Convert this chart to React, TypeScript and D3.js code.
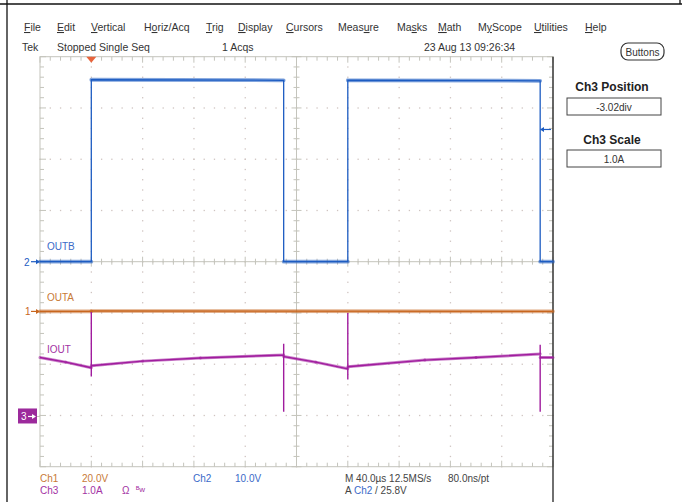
import React from 'react';
import * as d3 from 'd3';

// screen capture of a scope: 10 x 8 divisions, 40us/div
const menuItems = ['File', 'Edit', 'Vertical', 'Horiz/Acq', 'Trig', 'Display', 'Cursors', 'Measure', 'Masks', 'Math', 'MyScope', 'Utilities', 'Help'];
const menuX = [24, 57, 91, 144, 206, 238, 286, 338, 397, 438, 478, 534, 585];
const menuKey = [0, 0, 0, 1, 0, 0, 0, 4, 2, 0, 1, 0, 0];

// OUTB, Ch2, 10 V/div
const ch2Times = [-40, 0, 0, 150, 150, 200, 200, 350, 350, 360];
const ch2Volts = [0, 0, 35.5, 35.4, 0, 0, 35.4, 35.3, 0, 0];
// OUTA, Ch1, 20 V/div
const ch1Times = [-40, 0, 0, 360];
const ch1Volts = [0, 0, 0.15, 0];
// IOUT, Ch3, 1 A/div
const ch3Times = [-40, -20, 0, 0, 0, 0, 40, 85, 150, 150, 150, 150, 175, 200, 200, 200, 200, 260, 300, 350, 350, 350, 350, 360];
const ch3Amps = [1.15, 1.06, 0.95, 2.04, 0.78, 0.99, 1.08, 1.14, 1.2, 1.42, 0.09, 1.17, 1.06, 0.93, 2.02, 0.72, 0.97, 1.1, 1.15, 1.22, 1.4, 0.09, 1.15, 1.15];

const ch1Pos = -0.97, ch2Pos = 0, ch3Pos = -3.02;
const ch1Scale = 20, ch2Scale = 10, ch3Scale = 1;
const trigLevel = 25.8;

const blue = '#1d5cc2', orange = '#c8661e', purple = '#a01c9e';
const gridC = '#c4c4bc';
const font = '"Liberation Sans Narrow", "Liberation Sans", Arial, sans-serif';

const x0 = 40, x1 = 553, y0 = 56.7, y1 = 466.7;

export default function App() {
  const xT = d3.scaleLinear().domain([-40, 360]).range([x0, x1]);
  const xDiv = d3.scaleLinear().domain([0, 10]).range([x0, x1]);
  const yDiv = d3.scaleLinear().domain([4, -4]).range([y0, y1]);

  const trace = (ts: number[], vs: number[], sc: number, pos: number) =>
    d3.line<number>().x((_, i) => xT(ts[i])).y((v) => yDiv(v / sc + pos))(vs) || '';

  // noisy band only on the flat/sloped runs, not on the edges
  const band = (ts: number[], vs: number[], sc: number, pos: number, color: string, w: number, key: string) =>
    ts.slice(0, -1).map((t, i) =>
      t === ts[i + 1] ? null : (
        <line key={key + i} x1={xT(t)} x2={xT(ts[i + 1])} y1={yDiv(vs[i] / sc + pos)} y2={yDiv(vs[i + 1] / sc + pos)}
          stroke={color} strokeWidth={w} opacity={0.55} strokeLinecap="round" />
      )
    );

  const majX = d3.range(1, 10);
  const majY = d3.range(-3, 4);
  const minX = d3.range(0, 50.01, 1).map((d) => d / 5);
  const minY = d3.range(-20, 20.01, 1).map((d) => d / 5);

  const g1 = yDiv(ch1Pos), g2 = yDiv(ch2Pos), g3 = yDiv(ch3Pos);
  const trigY = yDiv(trigLevel / ch2Scale + ch2Pos);
  const trigX = xT(0);

  return (
    <svg width={682} height={502} style={{ position: 'absolute', left: 0, top: 0, background: '#fff' }} fontFamily={font}>
      {/* frame */}
      <line x1={0} x2={682} y1={4} y2={4} stroke="#111" strokeWidth={1.3} />
      <line x1={7} x2={7} y1={0} y2={502} stroke="#111" strokeWidth={1.3} />
      <line x1={680} x2={680} y1={0} y2={4} stroke="#111" strokeWidth={1.3} />

      {/* menu */}
      {menuItems.map((m, i) => (
        <text key={m} x={menuX[i]} y={31} fontSize={10.5} fill="#333">
          {m.slice(0, menuKey[i])}
          <tspan textDecoration="underline">{m[menuKey[i]]}</tspan>
          {m.slice(menuKey[i] + 1)}
        </text>
      ))}
      <text x={22} y={51} fontSize={10.5} fill="#333">Tek</text>
      <text x={57} y={51} fontSize={10.5} fill="#333">Stopped  Single Seq</text>
      <text x={222} y={51} fontSize={10.5} fill="#333">1 Acqs</text>
      <text x={424} y={51} fontSize={10.5} fill="#333">23 Aug 13 09:26:34</text>
      <rect x={621} y={43} width={43} height={17} rx={7} fill="none" stroke="#333" strokeWidth={1.2} />
      <text x={642.5} y={55.5} fontSize={10} textAnchor="middle" fill="#333">Buttons</text>

      {/* right panel */}
      <text x={612} y={91} fontSize={12} fontWeight="bold" textAnchor="middle" fill="#222">Ch3 Position</text>
      <rect x={567} y={98} width={94} height={17} fill="#fff" stroke="#444" />
      <text x={614} y={110.5} fontSize={10} textAnchor="middle" fill="#333">-3.02div</text>
      <text x={612} y={144} fontSize={12} fontWeight="bold" textAnchor="middle" fill="#222">Ch3 Scale</text>
      <rect x={567} y={150} width={94} height={17} fill="#fff" stroke="#444" />
      <text x={614} y={162.5} fontSize={10} textAnchor="middle" fill="#333">1.0A</text>

      {/* graticule dots */}
      {majX.map((d) =>
        minY.map((m) => <rect key={`vx${d}_${m}`} x={xDiv(d) - 0.6} y={yDiv(m) - 0.6} width={1.3} height={1.3} fill="#cfc4c0" />)
      )}
      {majY.map((d) =>
        minX.map((m) => <rect key={`hy${d}_${m}`} x={xDiv(m) - 0.6} y={yDiv(d) - 0.6} width={1.3} height={1.3} fill="#cfc4c0" />)
      )}
      {/* center cross */}
      <line x1={x0} x2={x1} y1={yDiv(0)} y2={yDiv(0)} stroke={gridC} />
      <line x1={xDiv(5)} x2={xDiv(5)} y1={y0} y2={y1} stroke={gridC} />
      {minX.map((m) => {
        const L = Number.isInteger(m) ? 5 : 3;
        return <line key={`cx${m}`} x1={xDiv(m)} x2={xDiv(m)} y1={yDiv(0) - L} y2={yDiv(0) + L} stroke={gridC} />;
      })}
      {minY.map((m) => {
        const L = Number.isInteger(m) ? 5 : 3;
        return <line key={`cy${m}`} x1={xDiv(5) - L} x2={xDiv(5) + L} y1={yDiv(m)} y2={yDiv(m)} stroke={gridC} />;
      })}
      {/* border + edge ticks */}
      <rect x={x0} y={y0} width={x1 - x0} height={y1 - y0} fill="none" stroke={gridC} />
      {minX.map((m) => {
        const L = Number.isInteger(m) ? 6 : 4;
        return (
          <g key={`ex${m}`}>
            <line x1={xDiv(m)} x2={xDiv(m)} y1={y0} y2={y0 + L} stroke={gridC} />
            <line x1={xDiv(m)} x2={xDiv(m)} y1={y1} y2={y1 - L} stroke={gridC} />
          </g>
        );
      })}
      {minY.map((m) => {
        const L = Number.isInteger(m) ? 6 : 4;
        return (
          <g key={`ey${m}`}>
            <line x1={x0} x2={x0 + L} y1={yDiv(m)} y2={yDiv(m)} stroke={gridC} />
            <line x1={x1} x2={x1 - L} y1={yDiv(m)} y2={yDiv(m)} stroke={gridC} />
          </g>
        );
      })}
      <line x1={x1} x2={x1} y1={y0} y2={502} stroke="#222" strokeWidth={1.3} />

      {/* labels */}
      <text x={47} y={g2 - 12} fontSize={10} fill="#3a6ac8">OUTB</text>
      <text x={47} y={g1 - 10} fontSize={10} fill="#c87a36">OUTA</text>
      <text x={47} y={g1 + 42} fontSize={10} fill="#a332a3">IOUT</text>

      {/* traces */}
      {band(ch1Times, ch1Volts, ch1Scale, ch1Pos, orange, 3.6, 'b1')}
      <path d={trace(ch1Times, ch1Volts, ch1Scale, ch1Pos)} fill="none" stroke={orange} strokeWidth={1.4} />
      {band(ch3Times, ch3Amps, ch3Scale, ch3Pos, purple, 3, 'b3')}
      <path d={trace(ch3Times, ch3Amps, ch3Scale, ch3Pos)} fill="none" stroke={purple} strokeWidth={1.4} />
      {band(ch2Times, ch2Volts, ch2Scale, ch2Pos, blue, 3.8, 'b2')}
      <path d={trace(ch2Times, ch2Volts, ch2Scale, ch2Pos)} fill="none" stroke={blue} strokeWidth={1.3} />

      {/* trigger position + level */}
      <polygon points={`${trigX - 5},${y0} ${trigX + 5},${y0} ${trigX},${y0 + 6}`} fill="#e8643c" />
      <line x1={x1 - 2} x2={x1 - 11} y1={trigY} y2={trigY} stroke={blue} strokeWidth={1.2} />
      <polygon points={`${x1 - 13},${trigY} ${x1 - 9},${trigY - 2.5} ${x1 - 9},${trigY + 2.5}`} fill={blue} />

      {/* channel ground markers */}
      <text x={24} y={g2 + 4} fontSize={10} fill={blue}>2</text>
      <line x1={31} x2={37} y1={g2} y2={g2} stroke={blue} strokeWidth={1.2} />
      <polygon points={`${40},${g2} ${36},${g2 - 2.5} ${36},${g2 + 2.5}`} fill={blue} />
      <text x={25} y={g1 + 4} fontSize={10} fill={orange}>1</text>
      <line x1={31} x2={37} y1={g1} y2={g1} stroke={orange} strokeWidth={1.2} />
      <polygon points={`${40},${g1} ${36},${g1 - 2.5} ${36},${g1 + 2.5}`} fill={orange} />
      <rect x={18} y={g3 - 8} width={19} height={15} fill="#9c2a9c" />
      <text x={21} y={g3 + 4} fontSize={10} fill="#fff">3</text>
      <line x1={28} x2={33} y1={g3} y2={g3} stroke="#fff" strokeWidth={1.2} />
      <polygon points={`${36},${g3} ${32},${g3 - 2.5} ${32},${g3 + 2.5}`} fill="#fff" />
      <line x1={37} x2={40} y1={g3} y2={g3} stroke={gridC} />

      {/* status */}
      <text x={40} y={482} fontSize={10} fill="#c87a36">Ch1</text>
      <text x={82} y={482} fontSize={10} fill="#c87a36">20.0V</text>
      <text x={193} y={482} fontSize={10} fill="#3a6ac8">Ch2</text>
      <text x={235} y={482} fontSize={10} fill="#3a6ac8">10.0V</text>
      <text x={40} y={494} fontSize={10} fill="#a332a3">Ch3</text>
      <text x={82} y={494} fontSize={10} fill="#a332a3">1.0A</text>
      <text x={122} y={494} fontSize={10} fill="#a332a3">Ω</text>
      <text x={136} y={492} fontSize={8} fill="#a332a3">ᴮw</text>
      <text x={345} y={482} fontSize={10} fill="#444">M 40.0µs  12.5MS/s</text>
      <text x={448} y={482} fontSize={10} fill="#444">80.0ns/pt</text>
      <text x={345} y={494} fontSize={10} fill="#444">A <tspan fill="#3a6ac8">Ch2</tspan>  /  25.8V</text>
    </svg>
  );
}
